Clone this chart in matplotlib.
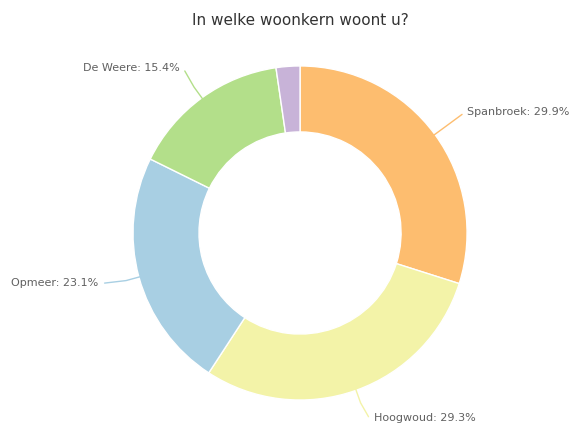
import numpy as np
import matplotlib.pyplot as plt

# Data
labels = ['Spanbroek', 'Hoogwoud', 'Opmeer', 'De Weere', 'Overig']
values = [29.9, 29.3, 23.1, 15.4, 2.3]
show_label = [True, True, True, True, False]
colors = ['#fdbd6f', '#f3f3a8', '#a8cfe3', '#b3df8a', '#c8b3d8']

# label text positions in data units (radius = 1), and line anchor on slice
label_pos = {
    'Spanbroek': (1.00, 0.727),
    'Hoogwoud': (0.44, -1.107),
    'Opmeer': (-1.21, -0.30),
    'De Weere': (-0.72, 0.99),
}
elbow = {
    'Spanbroek': (0.97, 0.71),
    'Hoogwoud': (0.41, -1.10),
    'Opmeer': (-1.17, -0.30),
    'De Weere': (-0.69, 0.97),
}
ha = {'Spanbroek': 'left', 'Hoogwoud': 'left', 'Opmeer': 'right', 'De Weere': 'right'}

fig = plt.figure(figsize=(5.75, 4.25), dpi=100)
ax = fig.add_axes([0.2313, 0.0588, 0.581, 0.786])

wedges, _ = ax.pie(values, colors=colors, startangle=90, counterclock=False,
                   radius=1.0,
                   wedgeprops=dict(width=0.395, edgecolor='white', linewidth=1.0))

text_color = '#606060'
for w, lab, val, show in zip(wedges, labels, values, show_label):
    if not show:
        continue
    ang = np.deg2rad((w.theta1 + w.theta2) / 2)
    x0, y0 = np.cos(ang) * 0.98, np.sin(ang) * 0.98
    x1, y1 = np.cos(ang) * 1.08, np.sin(ang) * 1.08
    ex, ey = elbow[lab]
    ax.plot([x0, x1, ex], [y0, y1, ey], color=w.get_facecolor(), lw=1.0,
            solid_capstyle='round', clip_on=False)
    tx, ty = label_pos[lab]
    ax.text(tx, ty, f'{lab}: {val}%', ha=ha[lab], va='center',
            fontsize=8, color=text_color)

ax.set_xlim(-1, 1)
ax.set_ylim(-1, 1)
ax.set_aspect('equal')
ax.axis('off')

fig.text(0.522, 0.952, 'In welke woonkern woont u?', ha='center', va='center',
         fontsize=11, color='#333333')

fig.savefig('out.png', dpi=100)
